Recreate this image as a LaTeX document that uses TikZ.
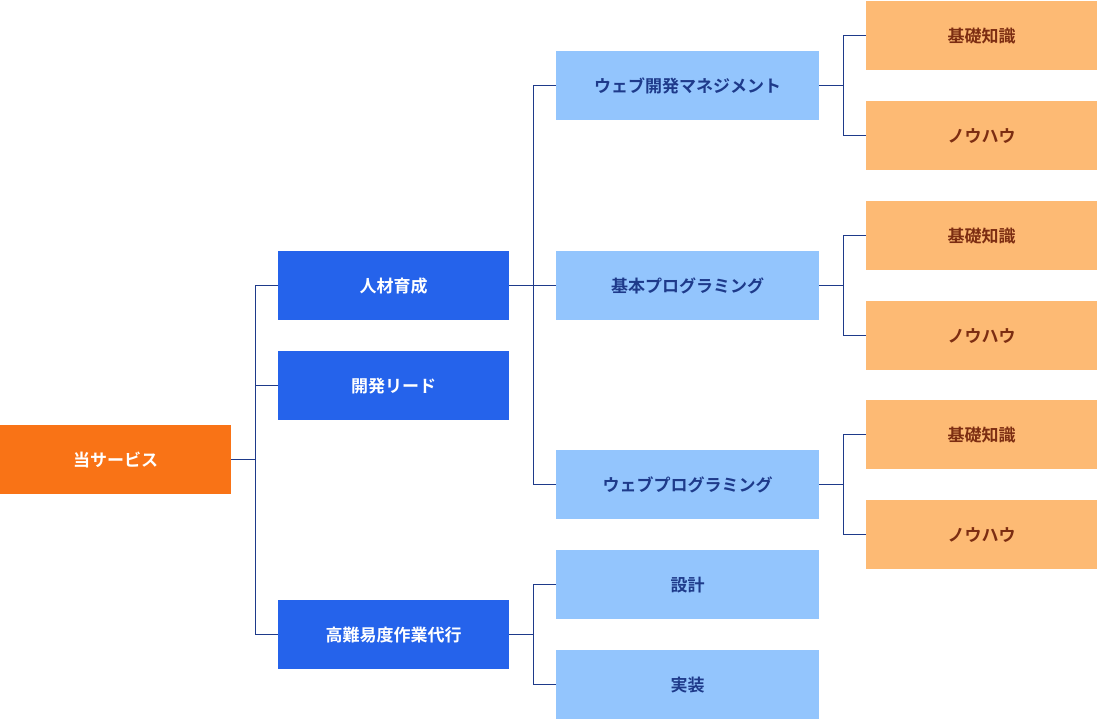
\documentclass[tikz,border=0pt]{standalone}
\usepackage{fontspec}
\setmainfont{Noto Sans CJK JP}[BoldFont={* Bold}]
\definecolor{cRoot}{HTML}{F97316}
\definecolor{cL1}{HTML}{2563EB}
\definecolor{cL2}{HTML}{93C5FD}
\definecolor{cL3}{HTML}{FDBA74}
\definecolor{tL2}{HTML}{1E3A8A}
\definecolor{tL3}{HTML}{7C2D12}
\definecolor{cLine}{HTML}{1E3A8A}
\begin{document}
\begin{tikzpicture}[x=1pt,y=-1pt,
 box/.style={draw=none,minimum height=69pt,inner sep=0pt,anchor=north west,font=\bfseries\fontsize{17}{20}\selectfont},
 r/.style={box,fill=cRoot,text=white,minimum width=231pt},
 a/.style={box,fill=cL1,text=white,minimum width=231pt},
 b/.style={box,fill=cL2,text=tL2,minimum width=263pt},
 c/.style={box,fill=cL3,text=tL3,minimum width=231pt},
 ln/.style={draw=cLine,line width=0.8pt}]
\useasboundingbox (0,0) rectangle (1097,720);
\node[r] (root) at (0,425) {当サービス};
\node[a] (a1) at (278,251) {人材育成};
\node[a] (a2) at (278,351) {開発リード};
\node[a] (a3) at (278,600) {高難易度作業代行};
\node[b] (b1) at (556,51) {ウェブ開発マネジメント};
\node[b] (b2) at (556,251) {基本プログラミング};
\node[b] (b3) at (556,450) {ウェブプログラミング};
\node[b] (b4) at (556,550) {設計};
\node[b] (b5) at (556,650) {実装};
\node[c] (c1) at (866,1) {基礎知識};
\node[c] (c2) at (866,101) {ノウハウ};
\node[c] (c3) at (866,201) {基礎知識};
\node[c] (c4) at (866,301) {ノウハウ};
\node[c] (c5) at (866,400) {基礎知識};
\node[c] (c6) at (866,500) {ノウハウ};
\foreach \p/\k in {root/a1,root/a2,root/a3,a1/b1,a1/b2,a1/b3,a3/b4,a3/b5,b1/c1,b1/c2,b2/c3,b2/c4,b3/c5,b3/c6}{
  \draw[ln] (\p.east) -- ++(24,0) |- (\k.west);
}
\end{tikzpicture}
\end{document}
